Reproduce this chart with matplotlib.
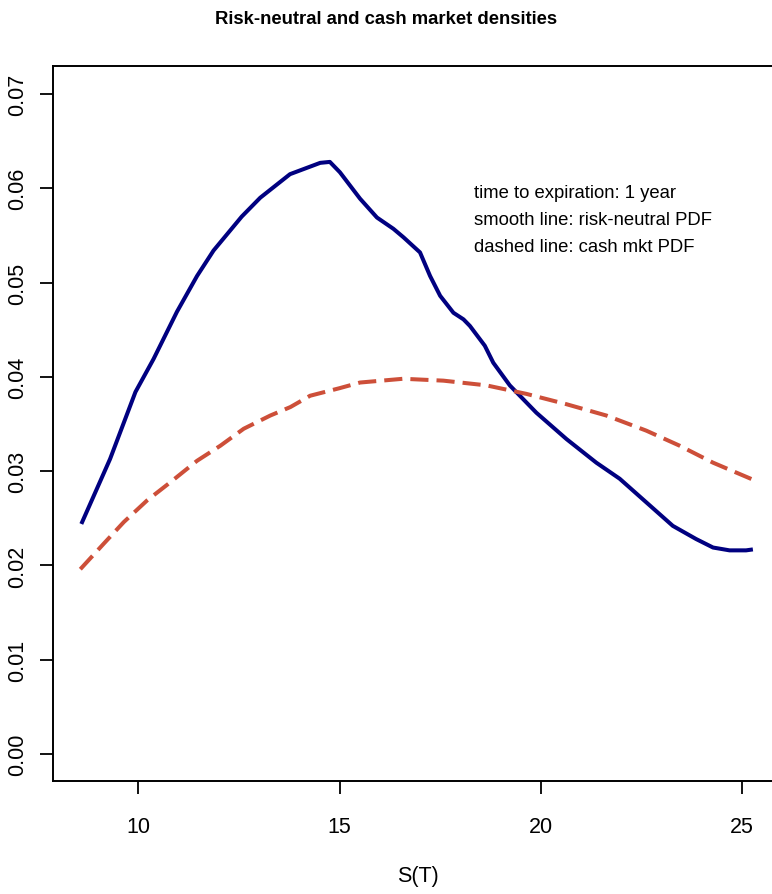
import matplotlib
matplotlib.use("Agg")
import matplotlib.pyplot as plt

plt.rcParams['font.family'] = ['Liberation Sans', 'DejaVu Sans']

# risk-neutral PDF (smooth line)
rn_x = [8.585, 9.30, 9.93, 10.38, 10.96, 11.46, 11.87, 12.57, 13.03, 13.77,
        14.52, 14.76, 15.01, 15.51, 15.93, 16.34, 16.59, 17.0, 17.25, 17.50,
        17.83, 18.08, 18.24, 18.61, 18.82, 19.23, 19.89, 20.64, 21.38, 21.96,
        22.62, 23.28, 23.86, 24.28, 24.69, 25.10, 25.27]
rn_y = [0.0244, 0.0313, 0.0384, 0.0419, 0.0469, 0.0507, 0.0534, 0.0570, 0.0590, 0.0615,
        0.0627, 0.0628, 0.0617, 0.0589, 0.0569, 0.0557, 0.0548, 0.0532, 0.0507, 0.0486,
        0.0468, 0.0461, 0.0454, 0.0433, 0.0415, 0.0391, 0.0362, 0.0334, 0.0309, 0.0292,
        0.0267, 0.0242, 0.0228, 0.0219, 0.0216, 0.0216, 0.0217]

# cash market PDF (dashed line)
cm_x = [8.56, 9.14, 9.64, 10.22, 10.79, 11.46, 12.04, 12.62, 13.28, 13.78,
        14.27, 15.0, 15.51, 16.58, 17.58, 18.65, 19.64, 20.64, 21.63, 22.62,
        23.45, 24.28, 25.27]
cm_y = [0.0196, 0.0223, 0.0246, 0.0269, 0.0288, 0.0311, 0.0327, 0.0345, 0.0359,
        0.0368, 0.0380, 0.0388, 0.0394, 0.0398, 0.0396, 0.0391, 0.0382, 0.0371,
        0.0359, 0.0343, 0.0327, 0.0309, 0.0291]

x_ticks = [10, 15, 20, 25]
y_ticks = [0.00, 0.01, 0.02, 0.03, 0.04, 0.05, 0.06, 0.07]

notes = ["time to expiration: 1 year",
         "smooth line: risk-neutral PDF",
         "dashed line: cash mkt PDF"]

fig = plt.figure(figsize=(7.72, 8.95), dpi=100)
ax = fig.add_axes([0.069, 0.1259, 0.9443, 0.7989])

ax.plot(rn_x, rn_y, color='#000080', lw=2.9, solid_capstyle='butt')
ax.plot(cm_x, cm_y, color='#CD4F39', lw=2.9, dashes=(4.5, 2.0))

ax.set_xlim(7.888, 26.0)
ax.set_ylim(-0.002896, 0.07294)
ax.set_xticks(x_ticks)
ax.set_xticklabels([str(v) for v in x_ticks])
ax.set_yticks(y_ticks)
ax.set_yticklabels(['%.2f' % v for v in y_ticks], rotation=90, va='center')

for s in ax.spines.values():
    s.set_linewidth(1.4)
ax.tick_params(axis='both', direction='out', length=9.4, width=1.3, labelsize=15.5)
ax.tick_params(axis='x', pad=15.5)
ax.tick_params(axis='y', pad=8.5)

for i, t in enumerate(notes):
    ax.text(474 / 772, 1 - (198 + 27 * i) / 895, t, transform=fig.transFigure,
            fontsize=13.3, va='baseline', ha='left')

fig.text(0.5, 1 - 20 / 895, "Risk-neutral and cash market densities",
         fontsize=13.3, fontweight='bold', ha='center', va='center')
fig.text(417.8 / 772, 1 - 877 / 895, "S(T)", fontsize=15.5, ha='center', va='center')

fig.savefig("out.png", dpi=100)
